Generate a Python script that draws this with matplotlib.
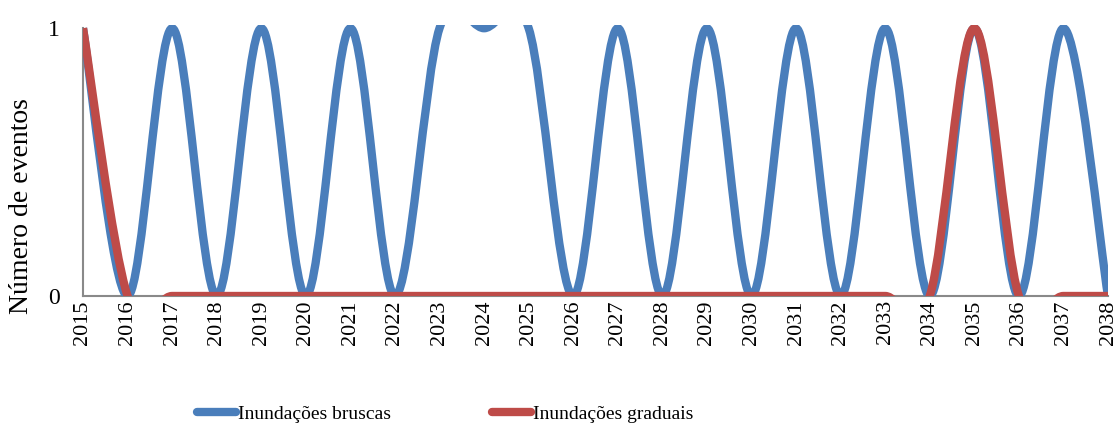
import matplotlib
matplotlib.use('Agg')
import matplotlib.pyplot as plt
from matplotlib.path import Path
from matplotlib.patches import PathPatch
from matplotlib.lines import Line2D

# data
anos = list(range(2015, 2039))
bruscas = [1, 0, 1, 0, 1, 0, 1, 0, 1, 1, 1, 0, 1, 0, 1, 0, 1, 0, 1, 0, 1, 0, 1, 0]
graduais = [1, 0, 0, 0, 0, 0, 0, 0, 0, 0, 0, 0, 0, 0, 0, 0, 0, 0, 0, 0, 1, 0, 0, 0]

azul = '#4A7EBB'
vermelho = '#BE4B48'
plt.rcParams['font.family'] = ['Liberation Serif', 'DejaVu Serif']


def excel_smooth(xs, ys, t=1/6):
    # Catmull-Rom style bezier like Excel "smoothed line"
    verts = [(xs[0], ys[0])]
    codes = [Path.MOVETO]
    n = len(xs)
    for i in range(n - 1):
        x0, y0 = (xs[i - 1], ys[i - 1]) if i > 0 else (xs[i], ys[i])
        x1, y1 = xs[i], ys[i]
        x2, y2 = xs[i + 1], ys[i + 1]
        x3, y3 = (xs[i + 2], ys[i + 2]) if i + 2 < n else (x2, y2)
        c1 = (x1 + (x2 - x0) * t, y1 + (y2 - y0) * t)
        c2 = (x2 - (x3 - x1) * t, y2 - (y3 - y1) * t)
        verts += [c1, c2, (x2, y2)]
        codes += [Path.CURVE4] * 3
    return Path(verts, codes)


fig = plt.figure(figsize=(11.2, 4.28), dpi=100)
ax = fig.add_axes([83 / 1120, 132 / 428, 1025 / 1120, 271 / 428])

for ys, cor in [(bruscas, azul), (graduais, vermelho)]:
    p = PathPatch(excel_smooth(anos, ys), fill=False, edgecolor=cor,
                  linewidth=6, capstyle='butt', joinstyle='round', zorder=2)
    ax.add_patch(p)

ax.set_xlim(2015, 2038)
ax.set_ylim(0, 1.012)
ax.set_xticks(anos)
ax.set_xticklabels([str(a) for a in anos], rotation=90, fontsize=16)
ax.set_yticks([0, 1])
ax.set_yticklabels(['0', '1'], fontsize=17)
ax.tick_params(axis='x', length=0, pad=3)
ax.tick_params(axis='y', length=0, pad=17)
ax.set_ylabel('Número de eventos', fontsize=20, va='center')
ax.yaxis.set_label_coords(-61 / 1025, 0.332)

for s in ['top', 'right']:
    ax.spines[s].set_visible(False)
for s in ['left', 'bottom']:
    ax.spines[s].set_color('#898989')
    ax.spines[s].set_linewidth(1.5)
    ax.spines[s].set_zorder(1)
ax.spines['left'].set_bounds(0, 1)

handles = [Line2D([], [], color=azul, lw=6, solid_capstyle='round'),
           Line2D([], [], color=vermelho, lw=6, solid_capstyle='round')]
fig.legend(handles, ['Inundações bruscas', 'Inundações graduais'],
           loc='center left', bbox_to_anchor=(197 / 1120, 1 - 414 / 428),
           ncol=2, frameon=False, fontsize=14, handlelength=2.0,
           handletextpad=0.1, columnspacing=5.2, borderpad=0, borderaxespad=0)

fig.savefig('out.png', dpi=100)
